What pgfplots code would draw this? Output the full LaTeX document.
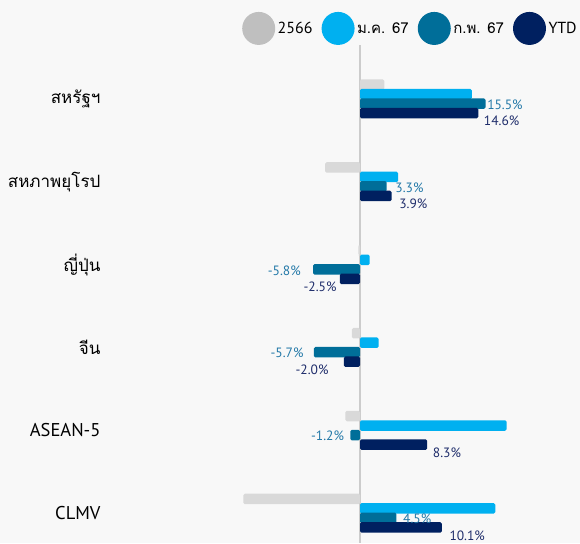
\documentclass[border=0pt]{standalone}
\usepackage{pgfplots}
\pgfplotsset{compat=1.18}
\usepackage{fontspec}
\setmainfont{PT Sans}
\newfontfamily\thaifont[Script=Thai]{Loma}
\definecolor{bgc}{HTML}{F8F8F8}
\definecolor{cA}{HTML}{D9D9D9}
\definecolor{cAleg}{HTML}{BFBFBF}
\definecolor{cB}{HTML}{00B0F0}
\definecolor{cC}{HTML}{006E99}
\definecolor{cD}{HTML}{002060}
\definecolor{lC}{HTML}{2479A8}
\definecolor{lD}{HTML}{1F2D6B}
\newcommand{\pl}[2]{\rlap{\hspace{#1pt}#2}}
\newcommand{\nl}[2]{\llap{#2\hspace{#1pt}}}
\begin{document}
\begin{tikzpicture}
\useasboundingbox (0,0) rectangle (580pt,-543pt);
\fill[bgc] (0,0) rectangle (580pt,-543pt);
\begin{axis}[
  at={(117pt,-543pt)}, anchor=south west,
  scale only axis, width=453.6pt, height=498pt,
  xbar, bar width=10.5pt,
  xmin=-30, xmax=26, ymin=-0.65, ymax=5.36,
  y dir=reverse,
  axis line style={draw=none},
  xtick=\empty, extra x ticks={0}, extra x tick labels={},
  extra x tick style={grid=major, major grid style={draw=black!20, line width=1.5pt}, major tick length=0pt},
  ytick={0,...,5},
  yticklabels={{\fontsize{17}{20}\selectfont\thaifont สหรัฐฯ},{\fontsize{17}{20}\selectfont\thaifont สหภาพยุโรป},{\fontsize{17}{20}\selectfont\thaifont ญี่ปุ่น},{\fontsize{17}{20}\selectfont\thaifont จีน},ASEAN-5,CLMV},
  major tick length=0pt,
  yticklabel style={font=\fontsize{18.5}{21}\selectfont, xshift=-13pt},
  legend columns=4,
  legend style={at={(0.2756,1.0333)}, anchor=west, draw=none, fill=none, inner sep=0pt,
     font=\fontsize{16}{19}\selectfont,
     /tikz/every even column/.append style={column sep=7pt},
     /tikz/every odd column/.append style={column sep=0.5pt}},
]
\addplot[fill=cA, draw=none, bar shift=14.25pt, rounded corners=1.5pt,
  legend image code/.code={\fill[cAleg] (16.5pt,0pt) circle (16.5pt);}]
  coordinates {(3.0,0) (-4.3,1) (-0.2,2) (-1.0,3) (-1.8,4) (-14.4,5)};
\addlegendentry{2566}
\addplot[fill=cB, draw=none, bar shift=4.75pt, rounded corners=1.5pt,
  legend image code/.code={\fill[cB] (16.5pt,0pt) circle (16.5pt);}]
  coordinates {(13.8,0) (4.7,1) (1.2,2) (2.3,3) (18.1,4) (16.7,5)};
\addlegendentry{\fontsize{15}{18}\selectfont\thaifont ม.ค. 67}
\addplot[fill=cC, draw=none, bar shift=-4.75pt, rounded corners=1.5pt,
  legend image code/.code={\fill[cC] (16.5pt,0pt) circle (16.5pt);},
  point meta=explicit symbolic, nodes near coords, nodes near coords align={anchor=west},
  every node near coord/.append style={inner sep=0pt, text=lC, yshift=-1pt, font=\fontsize{13.5}{15}\selectfont}]
  coordinates {(15.5,0) [\pl{1}{15.5\%}] (3.3,1) [\pl{8}{3.3\%}] (-5.8,2) [\nl{13}{-5.8\%}]
               (-5.7,3) [\nl{11}{-5.7\%}] (-1.2,4) [\nl{7}{-1.2\%}] (4.5,5) [\pl{6}{4.5\%}]};
\addlegendentry{\fontsize{15}{18}\selectfont\thaifont ก.พ. 67}
\addplot[fill=cD, draw=none, bar shift=-14.25pt, rounded corners=1.5pt,
  legend image code/.code={\fill[cD] (16.5pt,0pt) circle (16.5pt);},
  point meta=explicit symbolic, nodes near coords, nodes near coords align={anchor=west},
  every node near coord/.append style={inner sep=0pt, text=lD, yshift=-8pt, font=\fontsize{13.5}{15}\selectfont}]
  coordinates {(14.6,0) [\pl{5}{14.6\%}] (3.9,1) [\pl{7}{3.9\%}] (-2.5,2) [\nl{4}{-2.5\%}]
               (-2.0,3) [\nl{16}{-2.0\%}] (8.3,4) [\pl{5}{8.3\%}] (10.1,5) [\pl{7}{10.1\%}]};
\addlegendentry{YTD}
\end{axis}
\end{tikzpicture}
\end{document}
